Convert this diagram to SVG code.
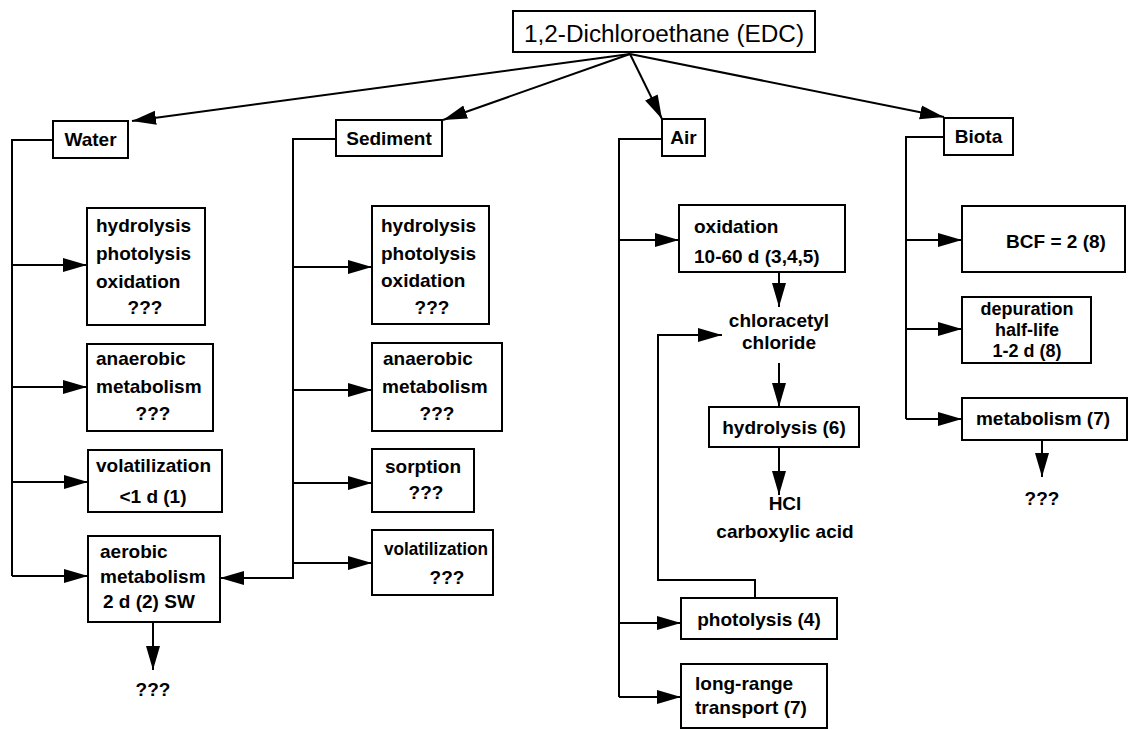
<svg xmlns="http://www.w3.org/2000/svg" width="1129" height="730" viewBox="0 0 1129 730">
<style>
rect{fill:#fff;stroke:#000;stroke-width:2}
text{font-family:"Liberation Sans",Arial,sans-serif;font-weight:bold;font-size:19px;fill:#000}
.c{text-anchor:middle}
.t{font-weight:normal;font-size:23px}
.s{font-size:18px}
#conn path{fill:none;stroke:#000;stroke-width:2;marker-end:url(#ah)}
#conn path.n{marker-end:none}
</style>
<defs>
<marker id="ah" markerUnits="userSpaceOnUse" markerWidth="26" markerHeight="16" refX="24" refY="8" orient="auto">
<path d="M0,1 L24,8 L0,15 Z" fill="#000"/>
</marker>
</defs>
<rect width="1129" height="730" style="fill:#fff;stroke:none"/>
<g id="conn">
<path d="M630,54 L132,121"/>
<path d="M630,54 L443,120"/>
<path d="M630,54 L662,119"/>
<path d="M630,54 L944,117"/>
<path class="n" d="M53,140 H12 V576"/>
<path d="M12,265 H87"/>
<path d="M12,387 H87"/>
<path d="M12,482 H88"/>
<path d="M12,576 H88"/>
<path d="M153,622 V670"/>
<path d="M336,139 H293 V578 H220"/>
<path d="M293,267 H372"/>
<path d="M293,390 H372"/>
<path d="M293,483 H372"/>
<path d="M293,563 H372"/>
<path class="n" d="M662,139 H619 V697"/>
<path d="M619,240 H679"/>
<path d="M619,623 H681"/>
<path d="M619,697 H681"/>
<path d="M779,272 V307"/>
<path d="M779,363 V407"/>
<path d="M779,447 V495"/>
<path d="M755,598 V580 H658 V335 H722"/>
<path class="n" d="M944,137 H906 V419"/>
<path d="M906,240 H962"/>
<path d="M906,329 H962"/>
<path d="M906,419 H962"/>
<path d="M1042,440 V477"/>
</g>
<g id="edc"><rect x="513" y="11" width="302" height="41"/><text class="t c" x="664" y="42" textLength="280" lengthAdjust="spacingAndGlyphs">1,2-Dichloroethane (EDC)</text></g>
<g id="water"><rect x="53" y="121" width="75" height="37"/><text class="c" x="90.5" y="146">Water</text></g>
<g id="sediment"><rect x="336" y="120" width="106" height="36"/><text class="c" x="389" y="145">Sediment</text></g>
<g id="air"><rect x="662" y="119" width="43" height="37"/><text class="c" x="683.5" y="144">Air</text></g>
<g id="biota"><rect x="944" y="118" width="69" height="37"/><text class="c" x="978.5" y="143">Biota</text></g>
<g id="w1"><rect x="87" y="208" width="118" height="117"/><text x="96" y="232">hydrolysis</text><text x="96" y="260">photolysis</text><text x="96" y="288">oxidation</text><text class="c" x="145" y="314">???</text></g>
<g id="w2"><rect x="87" y="344" width="126" height="87"/><text x="96" y="365">anaerobic</text><text x="96" y="393">metabolism</text><text class="c" x="153" y="420">???</text></g>
<g id="w3"><rect x="88" y="450" width="134" height="62"/><text x="96" y="472">volatilization</text><text class="c" x="153" y="503">&lt;1 d (1)</text></g>
<g id="w4"><rect x="88" y="536" width="132" height="86"/><text x="100" y="558">aerobic</text><text x="100" y="583">metabolism</text><text x="103" y="608">2 d (2) SW</text></g>
<g id="w5"><text class="c" x="153" y="696">???</text></g>
<g id="s1"><rect x="372" y="206" width="117" height="118"/><text x="381" y="232">hydrolysis</text><text x="381" y="260">photolysis</text><text x="381" y="287">oxidation</text><text class="c" x="432" y="314">???</text></g>
<g id="s2"><rect x="372" y="343" width="130" height="88"/><text x="383" y="365">anaerobic</text><text x="382" y="393">metabolism</text><text class="c" x="437" y="420">???</text></g>
<g id="s3"><rect x="372" y="449" width="102" height="63"/><text class="c" x="423" y="473">sorption</text><text class="c" x="426" y="499">???</text></g>
<g id="s4"><rect x="372" y="530" width="121" height="65"/><text x="384" y="555" textLength="104" lengthAdjust="spacingAndGlyphs">volatilization</text><text class="c" x="447" y="584">???</text></g>
<g id="a1"><rect x="679" y="205" width="166" height="67"/><text x="694" y="233">oxidation</text><text x="694" y="263">10-60 d (3,4,5)</text></g>
<g id="a2"><text class="c" x="779" y="327">chloracetyl</text><text class="c" x="779" y="349">chloride</text></g>
<g id="a3"><rect x="709" y="407" width="150" height="40"/><text class="c" x="784" y="434">hydrolysis (6)</text></g>
<g id="a4"><text class="c" x="785" y="510">HCl</text><text class="c" x="785" y="538">carboxylic acid</text></g>
<g id="a5"><rect x="681" y="598" width="156" height="41"/><text class="c" x="759" y="626">photolysis (4)</text></g>
<g id="a6"><rect x="681" y="664" width="146" height="64"/><text x="695" y="690">long-range</text><text x="695" y="714">transport (7)</text></g>
<g id="b1"><rect x="962" y="206" width="163" height="66"/><text class="c" x="1056" y="248">BCF = 2 (8)</text></g>
<g id="b2"><rect x="962" y="297" width="129" height="66"/><text class="c s" x="1027" y="315">depuration</text><text class="c s" x="1027" y="336">half-life</text><text class="c s" x="1027" y="357">1-2 d (8)</text></g>
<g id="b3"><rect x="962" y="398" width="165" height="42"/><text class="c" x="1043" y="425">metabolism (7)</text></g>
<g id="b4"><text class="c" x="1042" y="505">???</text></g>
</svg>
